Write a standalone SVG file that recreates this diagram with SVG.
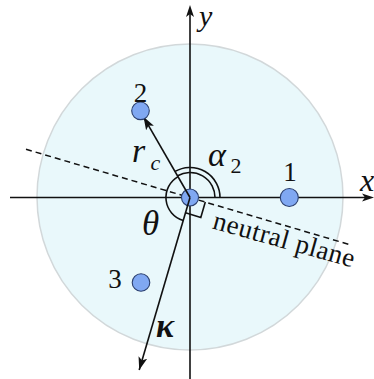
<svg xmlns="http://www.w3.org/2000/svg" width="374" height="379" viewBox="0 0 374 379">
<style>
.ln{stroke:#111;stroke-width:1.6;fill:none}
.dash{stroke:#111;stroke-width:1.5;fill:none;stroke-dasharray:6,4}
.dot{fill:#80a8f2;stroke:#2b3f6e;stroke-width:1.1}
</style>
<defs>
<marker id="ah" markerUnits="userSpaceOnUse" markerWidth="14" markerHeight="10" refX="13" refY="4.5" orient="auto" viewBox="0 0 14 9">
<path d="M0,0 L13,4.5 L0,9 L3,4.5 z" fill="#111"/>
</marker>
</defs>
<rect width="374" height="379" fill="#fff"/>
<circle id="section" cx="190" cy="197" r="153" fill="#e9f8fb" stroke="#d2d8da" stroke-width="1.5"/>
<g id="neutral-line">
<line class="dash" x1="26" y1="149.3" x2="352" y2="245.3"/>
</g>
<g id="axes">
<line class="ln" x1="10" y1="197.5" x2="365" y2="197.5"/>
<path d="M374,197.5 L362,193.5 L365,197.5 L362,201.5 z" fill="#111"/>
<line class="ln" x1="190" y1="379" x2="190" y2="14"/>
<path d="M190,5 L186,17 L190,14 L194,17 z" fill="#111"/>
</g>
<g id="angles">
<path class="ln" d="M215,197.5 A25,25 0 0 0 177.6,175.8"/>
<path class="ln" d="M220,197.5 A30,30 0 0 0 175.1,171.4"/>
<path class="ln" d="M178.1,176.6 A24,24 0 0 0 183.2,220.5"/>
<path class="ln" d="M205.3,202 L200.8,217.4 L185.5,212.8" stroke-width="1.4"/>
</g>
<g id="node-center">
<circle class="dot" cx="190" cy="197.5" r="8.5"/>
</g>
<g id="connectors">
<line class="ln" x1="190" y1="197.5" x2="143.5" y2="116.8" marker-end="url(#ah)" stroke-width="1.8"/>
<line class="ln" x1="190" y1="197.5" x2="139.2" y2="370" marker-end="url(#ah)" stroke-width="1.8"/>
</g>
<g font-family="Liberation Serif, Times New Roman, serif" fill="#111">
<g id="node-1">
<circle class="dot" cx="289.3" cy="197.5" r="9"/>
<text x="290" y="181" font-size="27" text-anchor="middle">1</text>
</g>
<g id="node-2">
<circle class="dot" cx="140.5" cy="110.8" r="8.8"/>
<text x="140.5" y="101.5" font-size="27" text-anchor="middle">2</text>
</g>
<g id="node-3">
<circle class="dot" cx="141" cy="282.5" r="8.8"/>
<text x="115" y="288" font-size="27" text-anchor="middle">3</text>
</g>
<g id="labels" font-style="italic">
<text x="360" y="191" font-size="32">x</text>
<text x="199" y="26" font-size="30">y</text>
<text x="132" y="162" font-size="34">r</text>
<text x="150.5" y="170" font-size="22">c</text>
<text x="208" y="166" font-size="34">α</text>
<text x="230.5" y="173" font-size="22" font-style="normal">2</text>
<text x="142" y="234.5" font-size="35">θ</text>
<text x="156" y="336.5" font-size="34" font-weight="bold">κ</text>
<text x="211.5" y="228.3" font-size="27" font-style="normal" textLength="146" transform="rotate(15.6 211.5 228.3)">neutral plane</text>
</g>
</g>
</svg>
